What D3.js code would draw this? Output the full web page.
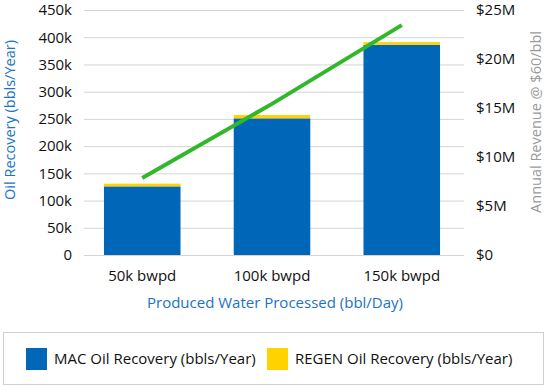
<!DOCTYPE html>
<html>
<head>
<meta charset="utf-8">
<script src="https://cdn.jsdelivr.net/npm/d3@7"></script>
<style>
  body { margin: 0; background: #fff; }
  text { font-family: "Open Sans", sans-serif; }
</style>
</head>
<body>
<div class="chart"></div>
<script>
var svgWidth = 547;
var svgHeight = 386;

// data
var categories = ["50k bwpd", "100k bwpd", "150k bwpd"];
var macValues = [126000, 251000, 386000];
var regenValues = [5000, 6000, 5000];
var pricePerBbl = 60;
var leftTicks = [0, 50000, 100000, 150000, 200000, 250000, 300000, 350000, 400000, 450000];
var rightTicks = [0, 5e6, 10e6, 15e6, 20e6, 25e6];

var blue = "#0066b7";
var yellow = "#ffd200";
var green = "#30b82a";

var svg = d3
  .select(".chart")
  .append("svg")
  .attr("width", svgWidth)
  .attr("height", svgHeight);

var plotLeft = 84, plotRight = 464, plotTop = 10, plotBottom = 255;

var xScale = d3.scaleBand()
  .domain(categories)
  .range([78, 466])
  .paddingInner(0.41)
  .paddingOuter(0.2);

var yScale = d3.scaleLinear().domain([0, 450000]).range([plotBottom, plotTop]);
var yRight = d3.scaleLinear().domain([0, 25e6]).range([plotBottom, plotTop]);

// gridlines
svg.append("g")
  .selectAll("line")
  .data(leftTicks)
  .enter()
  .append("line")
  .attr("x1", plotLeft)
  .attr("x2", plotRight)
  .attr("y1", (d) => yScale(d) + 0.5)
  .attr("y2", (d) => yScale(d) + 0.5)
  .attr("stroke", "#d4d4d4")
  .attr("stroke-width", 1);

// left axis
var leftAxis = d3.axisLeft(yScale)
  .tickValues(leftTicks)
  .tickSize(0)
  .tickPadding(12)
  .tickFormat((d) => d === 0 ? "0" : d / 1000 + "k");
var gLeft = svg.append("g").attr("transform", `translate(${plotLeft},0)`).call(leftAxis);
gLeft.select(".domain").remove();
gLeft.selectAll("text").style("font-size", "15px").attr("fill", "#111");

// right axis
var rightAxis = d3.axisRight(yRight)
  .tickValues(rightTicks)
  .tickSize(0)
  .tickPadding(12)
  .tickFormat((d) => "$" + (d === 0 ? "0" : d / 1e6 + "M"));
var gRight = svg.append("g").attr("transform", `translate(${plotRight},0)`).call(rightAxis);
gRight.select(".domain").remove();
gRight.selectAll("text").style("font-size", "15px").attr("fill", "#111");

// bottom axis
var bottomAxis = d3.axisBottom(xScale).tickSize(0).tickPadding(15);
var gBottom = svg.append("g").attr("transform", `translate(0,${plotBottom})`).call(bottomAxis);
gBottom.select(".domain").remove();
gBottom.selectAll("text").style("font-size", "15px").attr("fill", "#111");

// stacked bars
svg.append("g")
  .selectAll("rect")
  .data(categories)
  .enter()
  .append("rect")
  .attr("x", (d) => xScale(d))
  .attr("width", xScale.bandwidth())
  .attr("y", (d, i) => yScale(macValues[i]))
  .attr("height", (d, i) => plotBottom - yScale(macValues[i]))
  .attr("fill", blue);

svg.append("g")
  .selectAll("rect")
  .data(categories)
  .enter()
  .append("rect")
  .attr("x", (d) => xScale(d))
  .attr("width", xScale.bandwidth())
  .attr("y", (d, i) => yScale(macValues[i] + regenValues[i]))
  .attr("height", (d, i) => yScale(macValues[i]) - yScale(macValues[i] + regenValues[i]))
  .attr("fill", yellow);

// revenue line
var revenue = categories.map((c, i) => ({ cat: c, value: (macValues[i] + regenValues[i]) * pricePerBbl }));
svg.append("path")
  .datum(revenue)
  .attr("fill", "none")
  .attr("stroke", green)
  .attr("stroke-width", 4)
  .attr("d", d3.line()
    .x((d) => xScale(d.cat) + xScale.bandwidth() / 2)
    .y((d) => yRight(d.value)));

// axis titles
svg.append("text")
  .attr("transform", "translate(15,120) rotate(-90)")
  .attr("text-anchor", "middle")
  .attr("fill", "#1a73c4")
  .style("font-size", "14.5px")
  .text("Oil Recovery (bbls/Year)");

svg.append("text")
  .attr("transform", "translate(541,122) rotate(-90)")
  .attr("text-anchor", "middle")
  .attr("fill", "#9a9a9a")
  .style("font-size", "14.5px")
  .text("Annual Revenue @ $60/bbl");

svg.append("text")
  .attr("x", 275)
  .attr("y", 308)
  .attr("text-anchor", "middle")
  .attr("fill", "#1a73c4")
  .style("font-size", "15px")
  .text("Produced Water Processed (bbl/Day)");

// legend
svg.append("rect")
  .attr("x", 3.5)
  .attr("y", 332.5)
  .attr("width", 540)
  .attr("height", 52)
  .attr("fill", "#fff")
  .attr("stroke", "#cfcfcf");

var legendItems = [
  { label: "MAC Oil Recovery (bbls/Year)", color: blue, x: 26 },
  { label: "REGEN Oil Recovery (bbls/Year)", color: yellow, x: 267 }
];
var legend = svg.append("g")
  .selectAll("g")
  .data(legendItems)
  .enter()
  .append("g")
  .attr("transform", (d) => `translate(${d.x},348)`);
legend.append("rect").attr("width", 21).attr("height", 22).attr("fill", (d) => d.color);
legend.append("text")
  .attr("x", 28)
  .attr("y", 11)
  .attr("dy", "0.35em")
  .attr("fill", "#111")
  .style("font-size", "15px")
  .text((d) => d.label);
</script>
</body>
</html>
